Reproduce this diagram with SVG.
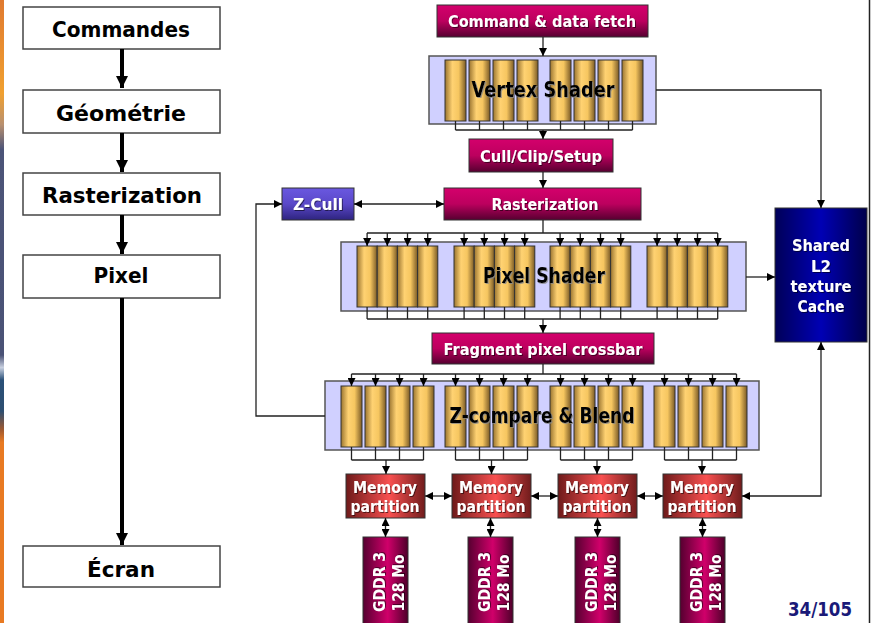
<svg xmlns="http://www.w3.org/2000/svg" width="873" height="623" viewBox="0 0 873 623">
<defs>
<style>
text{font-family:"DejaVu Sans","Liberation Sans",sans-serif;font-weight:bold;}
.lbox{fill:#fff;stroke:#444;stroke-width:1.5;}
.ltxt{font-size:21px;fill:#000;text-anchor:middle;}
.wt{font-size:15px;fill:#fff;text-anchor:middle;filter:url(#sh);}
.bt{font-size:21px;fill:#000;text-anchor:middle;filter:url(#shw);}
.mag{fill:url(#gMag);stroke:#333;stroke-width:1;}
.cont{fill:#d0d0ff;stroke:#555;stroke-width:1.5;}
.cyl{fill:url(#gCyl);stroke:#333;stroke-width:1;}
.ln{fill:none;stroke:#222;stroke-width:1.3;}
.arr{marker-end:url(#ah);}
.darr{marker-start:url(#ah);marker-end:url(#ah);}
.big{fill:none;stroke:#000;stroke-width:4;}
</style>
<linearGradient id="gMag" x1="0" y1="0" x2="0" y2="1">
<stop offset="0" stop-color="#d4006c"/><stop offset="0.5" stop-color="#bc005e"/><stop offset="1" stop-color="#560030"/>
</linearGradient>
<linearGradient id="gZc" x1="0" y1="0" x2="0" y2="1">
<stop offset="0" stop-color="#6a58e0"/><stop offset="0.5" stop-color="#5a48c8"/><stop offset="1" stop-color="#2e2480"/>
</linearGradient>
<linearGradient id="gMem" x1="0" y1="0" x2="1" y2="0">
<stop offset="0" stop-color="#6e1a1a"/><stop offset="0.55" stop-color="#f85050"/><stop offset="1" stop-color="#701c1c"/>
</linearGradient>
<linearGradient id="gGd" x1="0" y1="0" x2="1" y2="0">
<stop offset="0" stop-color="#560030"/><stop offset="0.55" stop-color="#d0006a"/><stop offset="1" stop-color="#4e002a"/>
</linearGradient>
<linearGradient id="gL2" x1="0" y1="0" x2="1" y2="0">
<stop offset="0" stop-color="#000058"/><stop offset="0.5" stop-color="#0000b4"/><stop offset="1" stop-color="#00004a"/>
</linearGradient>
<linearGradient id="gCyl" x1="0" y1="0" x2="1" y2="0">
<stop offset="0" stop-color="#9a7430"/><stop offset="0.35" stop-color="#ffd272"/><stop offset="0.65" stop-color="#f6c660"/><stop offset="1" stop-color="#7a5a26"/>
</linearGradient>
<linearGradient id="gStrip" x1="0" y1="0" x2="0" y2="1">
<stop offset="0" stop-color="#e07a30"/><stop offset="0.15" stop-color="#f0a030"/><stop offset="0.2" stop-color="#b89070"/><stop offset="0.24" stop-color="#4c5478"/><stop offset="0.57" stop-color="#4a5276"/><stop offset="0.59" stop-color="#c8d0e0"/><stop offset="0.61" stop-color="#2a5078"/><stop offset="0.66" stop-color="#2e4e70"/><stop offset="0.69" stop-color="#a05a30"/><stop offset="0.71" stop-color="#e87a22"/><stop offset="1" stop-color="#e87a22"/>
</linearGradient>
<filter id="sh" x="-10%" y="-30%" width="120%" height="160%"><feDropShadow dx="1" dy="1" stdDeviation="0.4" flood-color="#000" flood-opacity="0.55"/></filter>
<filter id="shw" x="-10%" y="-30%" width="120%" height="160%"><feDropShadow dx="1" dy="1" stdDeviation="0.5" flood-color="#888" flood-opacity="0.8"/></filter>
<marker id="ah" viewBox="0 0 10 10" refX="10" refY="5" markerWidth="8" markerHeight="8" markerUnits="userSpaceOnUse" orient="auto-start-reverse"><path d="M0,0 L10,5 L0,10 z" fill="#000"/></marker>
<marker id="bah" viewBox="0 0 10 10" refX="10" refY="5" markerWidth="12" markerHeight="13" markerUnits="userSpaceOnUse" orient="auto"><path d="M0,0 L10,5 L0,10 z" fill="#000"/></marker>
</defs>
<rect width="873" height="623" fill="#fff"/>
<rect x="0" y="0" width="4" height="623" fill="url(#gStrip)"/>
<line x1="869.5" y1="0" x2="869.5" y2="623" stroke="#222" stroke-width="1.5"/>

<!-- left pipeline -->
<g id="l-commandes"><rect class="lbox" x="23" y="7" width="197" height="42"/><text class="ltxt" x="121" y="37" textLength="138" lengthAdjust="spacingAndGlyphs">Commandes</text></g>
<g id="l-geometrie"><rect class="lbox" x="23" y="90" width="197" height="43"/><text class="ltxt" x="121" y="121" textLength="130" lengthAdjust="spacingAndGlyphs">Géométrie</text></g>
<g id="l-raster"><rect class="lbox" x="23" y="173" width="197" height="42"/><text class="ltxt" x="122" y="203" textLength="160" lengthAdjust="spacingAndGlyphs">Rasterization</text></g>
<g id="l-pixel"><rect class="lbox" x="23" y="255" width="197" height="43"/><text class="ltxt" x="121" y="283" textLength="55" lengthAdjust="spacingAndGlyphs">Pixel</text></g>
<g id="l-ecran"><rect class="lbox" x="23" y="546" width="197" height="41"/><text class="ltxt" x="121" y="577" textLength="68" lengthAdjust="spacingAndGlyphs">Écran</text></g>

<!-- right nodes -->
<g id="fetch"><rect class="mag" x="437" y="5" width="211" height="32"/><text class="wt" x="542" y="27" textLength="188" lengthAdjust="spacingAndGlyphs">Command &amp; data fetch</text></g>

<g id="vertex-shader">
<rect class="cont" x="429" y="56" width="227" height="68"/>
<rect class="cyl" x="445" y="60" width="21" height="61"/><rect class="cyl" x="469" y="60" width="21" height="61"/><rect class="cyl" x="493" y="60" width="21" height="61"/><rect class="cyl" x="517" y="60" width="21" height="61"/>
<rect class="cyl" x="550" y="60" width="21" height="61"/><rect class="cyl" x="574" y="60" width="21" height="61"/><rect class="cyl" x="598" y="60" width="21" height="61"/><rect class="cyl" x="622" y="60" width="21" height="61"/>
<text class="bt" x="543" y="97" textLength="143" lengthAdjust="spacingAndGlyphs">Vertex Shader</text>
</g>

<g id="cull"><rect class="mag" x="469" y="139" width="144" height="33"/><text class="wt" x="541" y="162" textLength="122" lengthAdjust="spacingAndGlyphs">Cull/Clip/Setup</text></g>

<g id="rasterization"><rect class="mag" x="444" y="188" width="197" height="32"/><text class="wt" x="545" y="210" textLength="107" lengthAdjust="spacingAndGlyphs">Rasterization</text></g>

<g id="zcull"><rect x="282" y="188" width="72" height="32" fill="url(#gZc)" stroke="#333" stroke-width="1"/><text class="wt" x="318" y="210" textLength="50" lengthAdjust="spacingAndGlyphs">Z-Cull</text></g>

<g id="pixel-shader">
<rect class="cont" x="341" y="242" width="405" height="69"/>
<rect class="cyl" x="357" y="246" width="20.2" height="61"/><rect class="cyl" x="377.2" y="246" width="20.2" height="61"/><rect class="cyl" x="397.4" y="246" width="20.2" height="61"/><rect class="cyl" x="417.6" y="246" width="20.2" height="61"/>
<rect class="cyl" x="454" y="246" width="20.2" height="61"/><rect class="cyl" x="474.2" y="246" width="20.2" height="61"/><rect class="cyl" x="494.4" y="246" width="20.2" height="61"/><rect class="cyl" x="514.6" y="246" width="20.2" height="61"/>
<rect class="cyl" x="550" y="246" width="20.2" height="61"/><rect class="cyl" x="570.2" y="246" width="20.2" height="61"/><rect class="cyl" x="590.4" y="246" width="20.2" height="61"/><rect class="cyl" x="610.6" y="246" width="20.2" height="61"/>
<rect class="cyl" x="647" y="246" width="20.2" height="61"/><rect class="cyl" x="667.2" y="246" width="20.2" height="61"/><rect class="cyl" x="687.4" y="246" width="20.2" height="61"/><rect class="cyl" x="707.6" y="246" width="20.2" height="61"/>
<text class="bt" x="544" y="283" textLength="122" lengthAdjust="spacingAndGlyphs">Pixel Shader</text>
</g>

<g id="l2cache"><rect x="775" y="208" width="92" height="134" fill="url(#gL2)" stroke="#333" stroke-width="1"/>
<text class="wt" x="821" y="251" textLength="58" lengthAdjust="spacingAndGlyphs">Shared</text>
<text class="wt" x="821" y="272">L2</text>
<text class="wt" x="821" y="292" textLength="61" lengthAdjust="spacingAndGlyphs">texture</text>
<text class="wt" x="821" y="312" textLength="47" lengthAdjust="spacingAndGlyphs">Cache</text>
</g>

<g id="crossbar"><rect class="mag" x="432" y="333" width="222" height="31"/><text class="wt" x="543" y="355" textLength="199" lengthAdjust="spacingAndGlyphs">Fragment pixel crossbar</text></g>

<g id="zcompare">
<rect class="cont" x="325" y="381" width="434" height="69"/>
<rect class="cyl" x="341" y="386" width="21" height="61"/><rect class="cyl" x="365" y="386" width="21" height="61"/><rect class="cyl" x="389" y="386" width="21" height="61"/><rect class="cyl" x="413" y="386" width="21" height="61"/>
<rect class="cyl" x="445" y="386" width="21" height="61"/><rect class="cyl" x="469" y="386" width="21" height="61"/><rect class="cyl" x="493" y="386" width="21" height="61"/><rect class="cyl" x="517" y="386" width="21" height="61"/>
<rect class="cyl" x="550" y="386" width="21" height="61"/><rect class="cyl" x="574" y="386" width="21" height="61"/><rect class="cyl" x="598" y="386" width="21" height="61"/><rect class="cyl" x="622" y="386" width="21" height="61"/>
<rect class="cyl" x="654" y="386" width="21" height="61"/><rect class="cyl" x="678" y="386" width="21" height="61"/><rect class="cyl" x="702" y="386" width="21" height="61"/><rect class="cyl" x="726" y="386" width="21" height="61"/>
<text class="bt" x="542" y="423" textLength="185" lengthAdjust="spacingAndGlyphs">Z-compare &amp; Blend</text>
</g>

<g id="mem1"><rect x="346" y="474" width="79" height="44" fill="url(#gMem)" stroke="#333" stroke-width="1"/><text class="wt" x="385" y="493" textLength="64" lengthAdjust="spacingAndGlyphs">Memory</text><text class="wt" x="385" y="512" textLength="69" lengthAdjust="spacingAndGlyphs">partition</text></g>
<g id="mem2"><rect x="452" y="474" width="79" height="44" fill="url(#gMem)" stroke="#333" stroke-width="1"/><text class="wt" x="491" y="493" textLength="64" lengthAdjust="spacingAndGlyphs">Memory</text><text class="wt" x="491" y="512" textLength="69" lengthAdjust="spacingAndGlyphs">partition</text></g>
<g id="mem3"><rect x="558" y="474" width="79" height="44" fill="url(#gMem)" stroke="#333" stroke-width="1"/><text class="wt" x="597" y="493" textLength="64" lengthAdjust="spacingAndGlyphs">Memory</text><text class="wt" x="597" y="512" textLength="69" lengthAdjust="spacingAndGlyphs">partition</text></g>
<g id="mem4"><rect x="663" y="474" width="79" height="44" fill="url(#gMem)" stroke="#333" stroke-width="1"/><text class="wt" x="702" y="493" textLength="64" lengthAdjust="spacingAndGlyphs">Memory</text><text class="wt" x="702" y="512" textLength="69" lengthAdjust="spacingAndGlyphs">partition</text></g>

<g id="gddr1"><rect x="363" y="537" width="45" height="90" fill="url(#gGd)" stroke="#333" stroke-width="1"/><text class="wt" transform="translate(385,582) rotate(-90)" textLength="60" lengthAdjust="spacingAndGlyphs">GDDR 3</text><text class="wt" transform="translate(404,583) rotate(-90)" textLength="57" lengthAdjust="spacingAndGlyphs">128 Mo</text></g>
<g id="gddr2"><rect x="468" y="537" width="45" height="90" fill="url(#gGd)" stroke="#333" stroke-width="1"/><text class="wt" transform="translate(490,582) rotate(-90)" textLength="60" lengthAdjust="spacingAndGlyphs">GDDR 3</text><text class="wt" transform="translate(509,583) rotate(-90)" textLength="57" lengthAdjust="spacingAndGlyphs">128 Mo</text></g>
<g id="gddr3"><rect x="575" y="537" width="45" height="90" fill="url(#gGd)" stroke="#333" stroke-width="1"/><text class="wt" transform="translate(597,582) rotate(-90)" textLength="60" lengthAdjust="spacingAndGlyphs">GDDR 3</text><text class="wt" transform="translate(616,583) rotate(-90)" textLength="57" lengthAdjust="spacingAndGlyphs">128 Mo</text></g>
<g id="gddr4"><rect x="680" y="537" width="45" height="90" fill="url(#gGd)" stroke="#333" stroke-width="1"/><text class="wt" transform="translate(702,582) rotate(-90)" textLength="60" lengthAdjust="spacingAndGlyphs">GDDR 3</text><text class="wt" transform="translate(721,583) rotate(-90)" textLength="57" lengthAdjust="spacingAndGlyphs">128 Mo</text></g>

<g id="page"><text x="820" y="616" font-size="19" fill="#1a1a78" text-anchor="middle" textLength="64" lengthAdjust="spacingAndGlyphs">34/105</text></g>

<!-- connectors -->
<g id="connectors">
<line class="big" x1="122" y1="49" x2="122" y2="88" marker-end="url(#bah)"/>
<line class="big" x1="122" y1="133" x2="122" y2="172" marker-end="url(#bah)"/>
<line class="big" x1="122" y1="215" x2="122" y2="254" marker-end="url(#bah)"/>
<line class="big" x1="122" y1="298" x2="122" y2="545" marker-end="url(#bah)"/>

<line class="ln arr" x1="543" y1="37" x2="543" y2="56"/>
<path class="ln" d="M455.5,121V130M479.5,121V130M503.5,121V130M527.5,121V130M560.5,121V130M584.5,121V130M608.5,121V130M632.5,121V130M455.5,130H632.5"/>
<line class="ln arr" x1="543" y1="130" x2="543" y2="139"/>
<line class="ln arr" x1="543" y1="172" x2="543" y2="188"/>
<line class="ln darr" x1="354" y1="204" x2="444" y2="204"/>
<path class="ln arr" d="M325,416H256V204H282"/>
<path class="ln" d="M543,220V233M367,233H717.7"/>
<line class="ln arr" x1="367.1" y1="233" x2="367.1" y2="246"/><line class="ln arr" x1="387.3" y1="233" x2="387.3" y2="246"/><line class="ln arr" x1="407.5" y1="233" x2="407.5" y2="246"/><line class="ln arr" x1="427.7" y1="233" x2="427.7" y2="246"/>
<line class="ln arr" x1="464.1" y1="233" x2="464.1" y2="246"/><line class="ln arr" x1="484.3" y1="233" x2="484.3" y2="246"/><line class="ln arr" x1="504.5" y1="233" x2="504.5" y2="246"/><line class="ln arr" x1="524.7" y1="233" x2="524.7" y2="246"/>
<line class="ln arr" x1="560.1" y1="233" x2="560.1" y2="246"/><line class="ln arr" x1="580.3" y1="233" x2="580.3" y2="246"/><line class="ln arr" x1="600.5" y1="233" x2="600.5" y2="246"/><line class="ln arr" x1="620.7" y1="233" x2="620.7" y2="246"/>
<line class="ln arr" x1="657.1" y1="233" x2="657.1" y2="246"/><line class="ln arr" x1="677.3" y1="233" x2="677.3" y2="246"/><line class="ln arr" x1="697.5" y1="233" x2="697.5" y2="246"/><line class="ln arr" x1="717.7" y1="233" x2="717.7" y2="246"/>
<path class="ln" d="M367.1,307V319M387.3,307V319M407.5,307V319M427.7,307V319M464.1,307V319M484.3,307V319M504.5,307V319M524.7,307V319M560.1,307V319M580.3,307V319M600.5,307V319M620.7,307V319M657.1,307V319M677.3,307V319M697.5,307V319M717.7,307V319M367.1,319H717.7"/>
<line class="ln arr" x1="543" y1="319" x2="543" y2="333"/>
<line class="ln arr" x1="746" y1="277" x2="775" y2="277"/>
<path class="ln arr" d="M656,90H821V208"/>
<path class="ln" d="M543,364V374M351.5,374H736.5"/>
<line class="ln arr" x1="351.5" y1="374" x2="351.5" y2="386"/><line class="ln arr" x1="375.5" y1="374" x2="375.5" y2="386"/><line class="ln arr" x1="399.5" y1="374" x2="399.5" y2="386"/><line class="ln arr" x1="423.5" y1="374" x2="423.5" y2="386"/>
<line class="ln arr" x1="455.5" y1="374" x2="455.5" y2="386"/><line class="ln arr" x1="479.5" y1="374" x2="479.5" y2="386"/><line class="ln arr" x1="503.5" y1="374" x2="503.5" y2="386"/><line class="ln arr" x1="527.5" y1="374" x2="527.5" y2="386"/>
<line class="ln arr" x1="560.5" y1="374" x2="560.5" y2="386"/><line class="ln arr" x1="584.5" y1="374" x2="584.5" y2="386"/><line class="ln arr" x1="608.5" y1="374" x2="608.5" y2="386"/><line class="ln arr" x1="632.5" y1="374" x2="632.5" y2="386"/>
<line class="ln arr" x1="664.5" y1="374" x2="664.5" y2="386"/><line class="ln arr" x1="688.5" y1="374" x2="688.5" y2="386"/><line class="ln arr" x1="712.5" y1="374" x2="712.5" y2="386"/><line class="ln arr" x1="736.5" y1="374" x2="736.5" y2="386"/>
<path class="ln" d="M351.5,447V460M375.5,447V460M399.5,447V460M423.5,447V460M351.5,460H423.5"/>
<path class="ln" d="M455.5,447V460M479.5,447V460M503.5,447V460M527.5,447V460M455.5,460H527.5"/>
<path class="ln" d="M560.5,447V460M584.5,447V460M608.5,447V460M632.5,447V460M560.5,460H632.5"/>
<path class="ln" d="M664.5,447V460M688.5,447V460M712.5,447V460M736.5,447V460M664.5,460H736.5"/>
<line class="ln arr" x1="386" y1="460" x2="386" y2="474"/>
<line class="ln arr" x1="491.5" y1="460" x2="491.5" y2="474"/>
<line class="ln arr" x1="597" y1="460" x2="597" y2="474"/>
<line class="ln arr" x1="702" y1="460" x2="702" y2="474"/>
<line class="ln darr" x1="425" y1="496" x2="452" y2="496"/>
<line class="ln darr" x1="531" y1="496" x2="558" y2="496"/>
<line class="ln darr" x1="637" y1="496" x2="663" y2="496"/>
<path class="ln darr" d="M821,342V496H742"/>
<line class="ln darr" x1="385.5" y1="518" x2="385.5" y2="537"/>
<line class="ln darr" x1="490.5" y1="518" x2="490.5" y2="537"/>
<line class="ln darr" x1="597.5" y1="518" x2="597.5" y2="537"/>
<line class="ln darr" x1="702.5" y1="518" x2="702.5" y2="537"/>
</g>
</svg>
